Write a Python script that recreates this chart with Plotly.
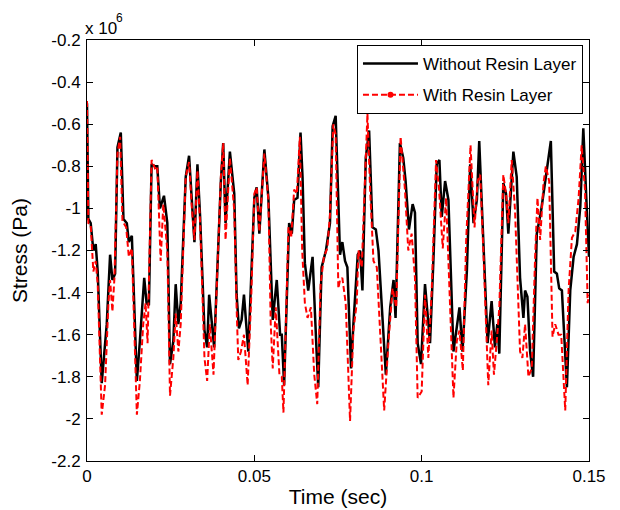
import plotly.graph_objects as go

# Time (s)
t_without = [0.0000,0.0004,0.0011,0.0019,0.0026,0.0032,0.0044,0.0059,0.0069,0.0076,0.0084,0.0091,0.0101,0.0109,0.0119,0.0125,0.0134,0.0149,0.0158,0.0171,0.0178,0.0185,0.0193,0.0203,0.0210,0.0218,0.0230,0.0240,0.0248,0.0258,0.0265,0.0273,0.0280,0.0295,0.0305,0.0313,0.0321,0.0330,0.0338,0.0351,0.0359,0.0365,0.0373,0.0380,0.0391,0.0400,0.0407,0.0414,0.0427,0.0440,0.0447,0.0454,0.0462,0.0469,0.0482,0.0494,0.0500,0.0507,0.0515,0.0530,0.0542,0.0555,0.0567,0.0577,0.0582,0.0589,0.0597,0.0604,0.0612,0.0619,0.0629,0.0638,0.0644,0.0651,0.0661,0.0674,0.0686,0.0691,0.0701,0.0714,0.0726,0.0734,0.0743,0.0756,0.0763,0.0771,0.0778,0.0789,0.0796,0.0809,0.0816,0.0823,0.0833,0.0843,0.0853,0.0863,0.0871,0.0893,0.0906,0.0916,0.0922,0.0935,0.0945,0.0952,0.0962,0.0973,0.0980,0.0988,0.0998,0.1010,0.1017,0.1025,0.1035,0.1045,0.1053,0.1060,0.1070,0.1080,0.1095,0.1105,0.1113,0.1122,0.1135,0.1145,0.1155,0.1165,0.1172,0.1182,0.1197,0.1209,0.1219,0.1226,0.1232,0.1244,0.1252,0.1259,0.1274,0.1284,0.1294,0.1304,0.1309,0.1316,0.1324,0.1333,0.1344,0.1357,0.1369,0.1386,0.1396,0.1404,0.1411,0.1419,0.1434,0.1444,0.1454,0.1464,0.1474,0.1483,0.1493,0.1500]
# Stress (x 10^6 Pa)
s_without = [-0.50,-1.05,-1.07,-1.20,-1.17,-1.30,-1.83,-1.55,-1.22,-1.34,-1.31,-0.71,-0.64,-1.05,-1.07,-1.16,-1.13,-1.82,-1.63,-1.33,-1.45,-1.46,-0.79,-0.80,-0.80,-1.00,-0.94,-1.07,-1.74,-1.63,-1.36,-1.55,-1.45,-0.85,-0.75,-0.96,-1.16,-0.79,-1.04,-1.58,-1.66,-1.41,-1.55,-1.66,-1.23,-0.87,-0.69,-1.07,-0.73,-0.93,-1.41,-1.57,-1.53,-1.41,-1.68,-1.20,-0.95,-0.90,-1.12,-0.72,-0.95,-1.53,-1.34,-1.60,-1.60,-1.84,-1.45,-1.07,-1.12,-0.96,-0.95,-0.64,-0.85,-1.26,-1.39,-1.23,-1.68,-1.85,-1.28,-1.20,-1.07,-0.61,-0.56,-1.22,-1.16,-1.25,-1.28,-1.76,-1.55,-1.22,-1.20,-1.39,-0.76,-0.63,-1.09,-1.10,-1.20,-1.79,-1.47,-1.34,-1.52,-0.69,-0.76,-0.87,-1.10,-0.98,-1.02,-1.64,-1.74,-1.36,-1.49,-1.64,-1.25,-0.79,-0.77,-1.04,-0.87,-0.96,-1.68,-1.55,-1.47,-1.68,-1.30,-0.79,-1.07,-0.96,-0.68,-1.07,-1.64,-1.44,-1.66,-1.55,-1.69,-0.88,-0.93,-1.12,-0.73,-0.85,-1.33,-1.52,-1.39,-1.42,-1.68,-1.80,-1.12,-1.01,-0.87,-0.68,-1.30,-1.31,-1.38,-1.39,-1.85,-1.39,-1.23,-1.17,-0.99,-0.62,-0.99,-1.23]

t_with = [0.0000,0.0004,0.0011,0.0019,0.0026,0.0032,0.0044,0.0054,0.0064,0.0069,0.0076,0.0082,0.0091,0.0099,0.0106,0.0117,0.0125,0.0134,0.0149,0.0158,0.0168,0.0175,0.0181,0.0193,0.0203,0.0210,0.0220,0.0228,0.0240,0.0248,0.0258,0.0265,0.0273,0.0280,0.0295,0.0305,0.0313,0.0321,0.0330,0.0338,0.0351,0.0359,0.0367,0.0373,0.0378,0.0391,0.0400,0.0407,0.0414,0.0427,0.0440,0.0447,0.0452,0.0460,0.0469,0.0480,0.0491,0.0500,0.0507,0.0515,0.0530,0.0542,0.0549,0.0555,0.0564,0.0575,0.0582,0.0587,0.0595,0.0602,0.0610,0.0619,0.0627,0.0636,0.0643,0.0651,0.0659,0.0669,0.0679,0.0688,0.0698,0.0708,0.0718,0.0726,0.0736,0.0743,0.0751,0.0756,0.0763,0.0773,0.0786,0.0796,0.0806,0.0811,0.0821,0.0838,0.0846,0.0856,0.0866,0.0888,0.0901,0.0913,0.0924,0.0937,0.0950,0.0960,0.0970,0.0980,0.0988,0.1000,0.1010,0.1020,0.1030,0.1043,0.1052,0.1063,0.1073,0.1083,0.1095,0.1105,0.1113,0.1123,0.1133,0.1146,0.1158,0.1167,0.1175,0.1185,0.1199,0.1209,0.1216,0.1226,0.1232,0.1244,0.1252,0.1259,0.1269,0.1279,0.1294,0.1301,0.1309,0.1319,0.1329,0.1339,0.1346,0.1354,0.1364,0.1371,0.1381,0.1391,0.1399,0.1409,0.1417,0.1429,0.1439,0.1449,0.1459,0.1469,0.1478,0.1488,0.1496,0.1500]
s_with = [-0.49,-1.07,-1.08,-1.30,-1.25,-1.36,-1.98,-1.84,-1.45,-1.34,-1.49,-1.33,-0.74,-0.66,-1.06,-1.09,-1.23,-1.19,-1.98,-1.82,-1.55,-1.45,-1.64,-0.77,-0.81,-0.80,-1.25,-0.98,-1.20,-1.89,-1.71,-1.50,-1.68,-1.55,-0.85,-0.78,-0.99,-1.15,-0.82,-1.07,-1.71,-1.82,-1.55,-1.71,-1.79,-1.23,-0.85,-0.69,-1.15,-0.76,-1.01,-1.47,-1.72,-1.68,-1.60,-1.84,-1.41,-0.93,-0.90,-1.11,-0.74,-0.96,-1.55,-1.76,-1.47,-1.79,-1.80,-1.97,-1.55,-1.09,-1.14,-0.91,-0.93,-0.66,-1.20,-1.45,-1.52,-1.47,-1.79,-1.93,-1.36,-1.23,-1.19,-1.03,-0.60,-0.65,-1.38,-1.34,-1.33,-1.45,-2.01,-1.58,-1.45,-1.20,-1.28,-0.55,-0.91,-1.25,-1.28,-1.96,-1.63,-1.38,-1.47,-0.66,-0.91,-1.20,-1.12,-1.33,-1.90,-1.87,-1.41,-1.71,-1.39,-0.77,-0.91,-1.19,-0.95,-1.39,-1.90,-1.63,-1.58,-1.77,-1.15,-0.70,-1.09,-0.87,-0.84,-1.23,-1.84,-1.58,-1.79,-1.60,-1.47,-0.84,-0.93,-1.07,-0.77,-1.01,-1.68,-1.71,-1.55,-1.80,-1.76,-1.23,-0.95,-1.15,-0.88,-0.80,-0.87,-1.61,-1.55,-1.60,-1.60,-1.96,-1.39,-1.14,-1.11,-0.95,-0.70,-0.91,-1.45,-1.41]

x_ticks = [0, 0.05, 0.1, 0.15]
x_ticklabels = ["0", "0.05", "0.1", "0.15"]
y_ticks = [-2.2, -2.0, -1.8, -1.6, -1.4, -1.2, -1.0, -0.8, -0.6, -0.4, -0.2]
y_ticklabels = ["-2.2", "-2", "-1.8", "-1.6", "-1.4", "-1.2", "-1", "-0.8", "-0.6", "-0.4", "-0.2"]

FONT = "Liberation Sans, Arial, Helvetica, sans-serif"

fig = go.Figure()
fig.add_trace(go.Scatter(x=t_without, y=s_without, mode="lines", name="Without Resin Layer",
                         line=dict(color="black", width=2.5), legendgroup="a"))
fig.add_trace(go.Scatter(x=t_with, y=s_with, mode="lines", name="With Resin Layer",
                         line=dict(color="red", width=2, dash="6px,3px"), showlegend=False))
fig.add_trace(go.Scatter(x=[None], y=[None], mode="lines+markers", name="With Resin Layer",
                         line=dict(color="red", width=2, dash="6px,3px"),
                         marker=dict(color="red", size=6), legendgroup="b"))

axis_common = dict(showline=True, linecolor="black", linewidth=1, mirror="ticks",
                   ticks="inside", ticklen=6, tickcolor="black", showgrid=False, zeroline=False,
                   tickfont=dict(family=FONT, size=17, color="black"))

fig.update_layout(
    width=620, height=510,
    margin=dict(l=79, r=39, t=32, b=57),
    paper_bgcolor="white", plot_bgcolor="white",
    xaxis=dict(range=[0, 0.15], tickvals=x_ticks, ticktext=x_ticklabels,
               title=dict(text="Time (sec)", font=dict(family=FONT, size=21, color="black"), standoff=3),
               **axis_common),
    yaxis=dict(range=[-2.2, -0.2], tickvals=y_ticks, ticktext=y_ticklabels, ticklabelstandoff=2,
               title=dict(text="Stress (Pa)", font=dict(family=FONT, size=21, color="black"), standoff=17),
               **axis_common),
    legend=dict(x=0.988, y=0.988, xanchor="right", yanchor="top",
                bgcolor="white", bordercolor="black", borderwidth=1,
                font=dict(family=FONT, size=17, color="black"),
                tracegroupgap=6, itemwidth=55),
    showlegend=True,
)

fig.add_annotation(x=0, y=1, xref="paper", yref="paper", xanchor="left", yanchor="bottom",
                   text="x 10", showarrow=False, xshift=-4, yshift=0,
                   font=dict(family=FONT, size=17, color="black"))
fig.add_annotation(x=0, y=1, xref="paper", yref="paper", xanchor="left", yanchor="bottom",
                   text="6", showarrow=False, xshift=27, yshift=13,
                   font=dict(family=FONT, size=12, color="black"))

fig.write_html("out.html")
